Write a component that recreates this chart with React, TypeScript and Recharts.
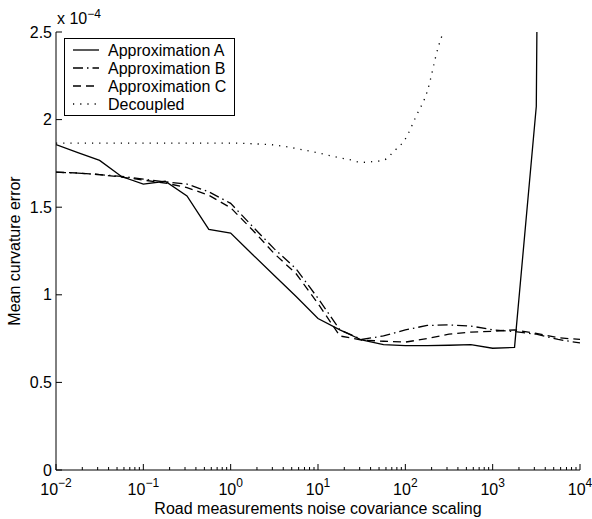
import React from 'react';
import { LineChart, Line, XAxis, YAxis, Legend, Label } from 'recharts';

// x positions (road measurement noise covariance scaling), 0.25-decade steps
const xValues = [
  0.01, 0.0178, 0.0316, 0.0562, 0.1, 0.178, 0.316, 0.562, 1, 1.78, 3.16, 5.62,
  10, 17.8, 31.6, 56.2, 100, 178, 316, 562, 1000, 1780, 3160, 5620, 10000,
];
// mean curvature error, in units of 1e-4
const approxA = [
  1.857, 1.812, 1.767, 1.675, 1.632, 1.648, 1.564, 1.373, 1.352, 1.23, 1.11, 0.99,
  0.865, 0.8, 0.742, 0.716, 0.71, 0.71, 0.712, 0.716, 0.695, 0.7, 2.076, 18, 40,
];
const approxB = [
  1.7, 1.695, 1.686, 1.676, 1.66, 1.645, 1.632, 1.588, 1.522, 1.39, 1.262, 1.148,
  0.98, 0.8, 0.745, 0.765, 0.8, 0.825, 0.828, 0.822, 0.8, 0.79, 0.775, 0.745, 0.725,
];
const approxC = [
  1.7, 1.695, 1.686, 1.672, 1.655, 1.638, 1.612, 1.568, 1.497, 1.37, 1.235, 1.12,
  0.95, 0.765, 0.742, 0.735, 0.73, 0.75, 0.775, 0.787, 0.792, 0.8, 0.78, 0.755, 0.745,
];
const decoupledX = [
  0.01, 0.1, 1, 1.78, 3.16, 5.62, 10, 17.8, 23.7, 31.6, 42.2, 56.2, 75, 100, 133, 178, 237, 316,
];
const decoupledY = [
  1.866, 1.866, 1.866, 1.862, 1.855, 1.835, 1.81, 1.782, 1.77, 1.756, 1.76, 1.768, 1.822,
  1.89, 2.02, 2.16, 2.41, 2.58,
];

const xMajorTicks = [0.01, 0.1, 1, 10, 100, 1000, 10000];
const xExponentLabels = ['\u22122', '\u22121', '0', '1', '2', '3', '4'];
const minorMultipliers = [2, 3, 4, 5, 6, 7, 8, 9];
const yTicks = [0, 0.5, 1, 1.5, 2, 2.5];
const yTickLabels = ['0', '0.5', '1', '1.5', '2', '2.5'];

const seriesNames = ['Approximation A', 'Approximation B', 'Approximation C', 'Decoupled'];
const seriesDash = ['', '10 4 1.5 4', '8 5', '1.2 6'];

const FONT = "'Liberation Sans', Arial, Helvetica, sans-serif";

const mainData = xValues.map((x, i) => ({ x, a: approxA[i], b: approxB[i], c: approxC[i] }));
const decoupledData = decoupledX.map((x, i) => ({ x, d: decoupledY[i] }));

const allXTicks: number[] = [];
xMajorTicks.forEach((m, i) => {
  allXTicks.push(m);
  if (i < xMajorTicks.length - 1) minorMultipliers.forEach((k) => allXTicks.push(+(m * k).toPrecision(6)));
});

const XTick = (props: any) => {
  const { x, y, payload } = props;
  const v = payload.value;
  const idx = xMajorTicks.findIndex((m) => Math.abs(m - v) / m < 1e-6);
  const major = idx >= 0;
  return (
    <g>
      <line x1={x} x2={x} y1={y} y2={y - (major ? 6 : 3)} stroke="#000" strokeWidth={1} />
      {major && (
        <text x={x} y={y + 25} textAnchor="middle" fontSize={16} fill="#000" fontFamily={FONT}>
          10
          <tspan dy={-8} fontSize={12}>
            {xExponentLabels[idx]}
          </tspan>
        </text>
      )}
    </g>
  );
};

const YTick = (props: any) => {
  const { x, y, payload } = props;
  const idx = yTicks.indexOf(payload.value);
  return (
    <g>
      <line x1={x} x2={x + 6} y1={y} y2={y} stroke="#000" strokeWidth={1} />
      <text x={x - 4} y={y} textAnchor="end" dominantBaseline="central" fontSize={16} fill="#000" fontFamily={FONT}>
        {idx >= 0 ? yTickLabels[idx] : ''}
      </text>
    </g>
  );
};

const LegendBox = () => (
  <svg width={172} height={79} style={{ display: 'block' }}>
    <rect x={0.5} y={0.5} width={170} height={77} fill="#fff" stroke="#000" strokeWidth={1} />
    {seriesNames.map((name, i) => {
      const ry = 12 + i * 18;
      return (
        <g key={name}>
          <line x1={9} x2={35} y1={ry} y2={ry} stroke="#000" strokeWidth={1.3} strokeDasharray={seriesDash[i] || undefined} />
          <text x={44} y={ry} dominantBaseline="central" fontSize={16} fill="#000" fontFamily={FONT}>
            {name}
          </text>
        </g>
      );
    })}
  </svg>
);

export default function App() {
  return (
    <div style={{ position: 'absolute', left: 0, top: 0, width: 592, height: 519, background: '#fff' }}>
      <LineChart width={592} height={519} data={mainData} margin={{ top: 32, right: 12, bottom: 9, left: 10 }}>
        <XAxis
          dataKey="x"
          type="number"
          scale="log"
          domain={[0.01, 10000]}
          allowDataOverflow
          ticks={allXTicks}
          interval={0}
          tickSize={0}
          tickMargin={0}
          tickLine={false}
          tick={<XTick />}
          axisLine={{ stroke: '#000', strokeWidth: 1 }}
          height={40}
        >
          <Label
            content={() => (
              <text x={318} y={514} textAnchor="middle" fontSize={16} fill="#000" fontFamily={FONT}>
                Road measurements noise covariance scaling
              </text>
            )}
          />
        </XAxis>
        <YAxis
          type="number"
          domain={[0, 2.5]}
          allowDataOverflow
          ticks={yTicks}
          interval={0}
          tickSize={0}
          tickMargin={0}
          tickLine={false}
          tick={<YTick />}
          axisLine={{ stroke: '#000', strokeWidth: 1 }}
          width={46}
        >
          <Label
            content={() => (
              <g>
                <text
                  x={14}
                  y={251}
                  transform="rotate(-90 14 251)"
                  textAnchor="middle"
                  dominantBaseline="central"
                  fontSize={16}
                  fill="#000"
                  fontFamily={FONT}
                >
                  Mean curvature error
                </text>
                <text x={57} y={24} fontSize={16} fill="#000" fontFamily={FONT}>
                  x 10
                  <tspan dy={-6} fontSize={12}>
                    {'\u22124'}
                  </tspan>
                </text>
              </g>
            )}
          />
        </YAxis>
        <Legend
          layout="horizontal"
          verticalAlign="middle"
          align="center"
          wrapperStyle={{ position: 'absolute', left: 64, top: 38, width: 172, height: 79 }}
          content={() => <LegendBox />}
        />
        <Line dataKey="a" name={seriesNames[0]} type="linear" stroke="#000" strokeWidth={1.3} dot={false} isAnimationActive={false} />
        <Line dataKey="b" name={seriesNames[1]} type="linear" stroke="#000" strokeWidth={1.3} strokeDasharray={seriesDash[1]} dot={false} isAnimationActive={false} />
        <Line dataKey="c" name={seriesNames[2]} type="linear" stroke="#000" strokeWidth={1.3} strokeDasharray={seriesDash[2]} dot={false} isAnimationActive={false} />
        <Line data={decoupledData} dataKey="d" name={seriesNames[3]} type="monotone" stroke="#000" strokeWidth={1.3} strokeDasharray={seriesDash[3]} dot={false} isAnimationActive={false} />
      </LineChart>
    </div>
  );
}
